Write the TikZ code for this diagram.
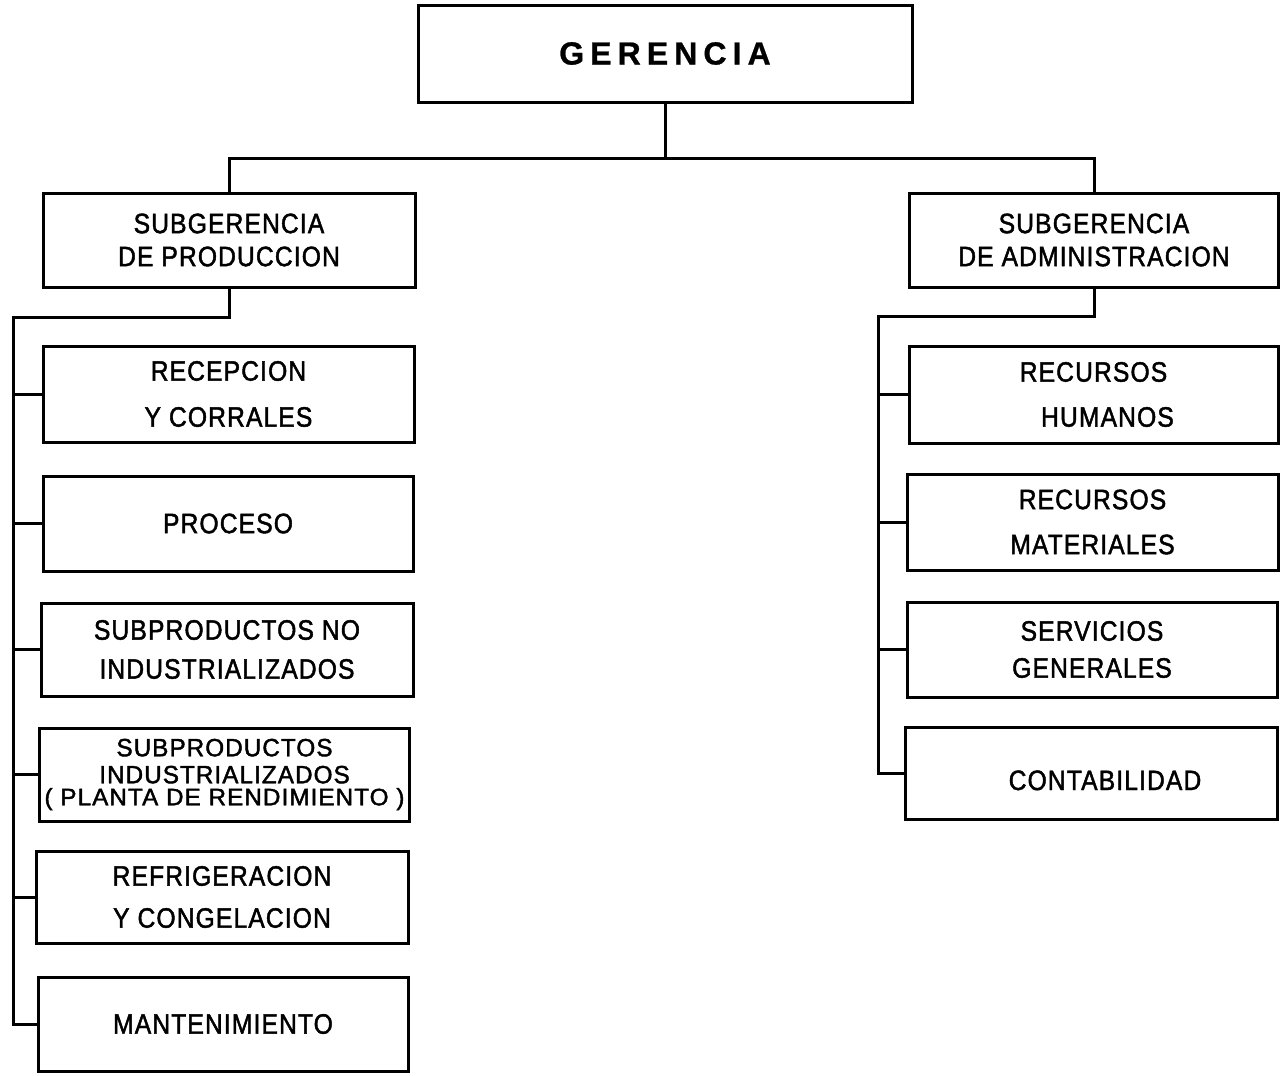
\documentclass[tikz,border=0pt]{standalone}
\usepackage{fontspec}
\setmainfont{Liberation Sans}[FakeStretch=0.88,LetterSpace=4,FakeBold=1.6]
\newfontfamily\gfont{Liberation Sans}[LetterSpace=19,FakeBold=0.8]
\begin{document}
\begin{tikzpicture}[x=1pt,y=-1pt,line width=3pt,
  box/.style={draw,line width=3pt,rectangle,align=center,inner sep=0pt},
  lbl/.style={font=\fontsize{28}{#1}\selectfont},
  conn/.style={line width=3pt}]
\useasboundingbox (0,0) rectangle (1283,1076);
\fill[white] (0,0) rectangle (1283,1076);

\node[box,minimum width=494pt,minimum height=97pt,font=\gfont\bfseries\fontsize{32}{34}\selectfont] (g) at (665,53.5) {GERENCIA};

\node[box,minimum width=372pt,minimum height=94pt,lbl=33] (sp) at (229,240) {SUBGERENCIA\\DE PRODUCCION};
\node[box,minimum width=369pt,minimum height=94pt,lbl=33] (sa) at (1094,240) {SUBGERENCIA\\DE ADMINISTRACION};

\node[box,minimum width=371pt,minimum height=96pt,lbl=46] (rec) at (228.5,394) {RECEPCION\\Y CORRALES};
\node[box,minimum width=370pt,minimum height=95pt,lbl=34] (proc) at (228,523.5) {PROCESO};
\node[box,minimum width=372pt,minimum height=93pt,lbl=39] (sno) at (227,649.5) {SUBPRODUCTOS NO\\INDUSTRIALIZADOS};
\node[box,minimum width=370pt,minimum height=93pt,font=\fontsize{25}{27}\selectfont] (sind) at (224.5,774.5) {\scalebox{1.1}[1]{SUBPRODUCTOS}\\\scalebox{1.1}[1]{INDUSTRIALIZADOS}\\[-5pt]\scalebox{1.1}[0.95]{( PLANTA DE RENDIMIENTO )}};
\node[box,minimum width=372pt,minimum height=92pt,lbl=42] (refr) at (222,897) {REFRIGERACION\\Y CONGELACION};
\node[box,minimum width=370pt,minimum height=94pt,lbl=34] (mant) at (223,1024) {MANTENIMIENTO};

\node[box,minimum width=369pt,minimum height=97pt,lbl=45] (rh) at (1093.5,394.5) {RECURSOS\\\hspace*{28pt}HUMANOS};
\node[box,minimum width=371pt,minimum height=96pt,lbl=45] (rm) at (1092.5,522) {RECURSOS\\MATERIALES};
\node[box,minimum width=370pt,minimum height=95pt,lbl=37] (sg) at (1092,649.5) {SERVICIOS\\GENERALES};
\node[box,minimum width=372pt,minimum height=92pt,lbl=34,text height=34pt,text depth=0pt] (cont) at (1091,773) {\hspace*{28pt}CONTABILIDAD};

\coordinate (gj) at (665,158);
\coordinate (lt) at (13,317);
\coordinate (rt) at (878,316);

\draw[conn] (g.south) -- (gj);
\draw[conn] (sp.north) |- (gj) -| (sa.north);
\draw[conn] (sp.south) |- (lt) |- (mant.west);
\draw[conn] (sa.south) |- (rt) |- (cont.west);
\foreach \n in {rec,proc,sno,sind,refr} \draw[conn] (\n.west) -- (\n.west -| lt);
\foreach \n in {rh,rm,sg} \draw[conn] (\n.west) -- (\n.west -| rt);
\end{tikzpicture}
\end{document}
